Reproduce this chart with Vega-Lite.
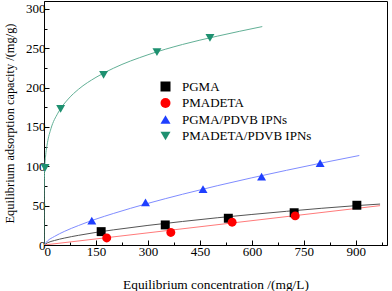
{
  "$schema": "https://vega.github.io/schema/vega-lite/v6.json",
  "width": 343,
  "height": 244,
  "autosize": "none",
  "padding": {"left": 44, "top": 1, "right": 5, "bottom": 46},
  "background": "white",
  "config": {
    "view": {"stroke": "black", "strokeWidth": 1},
    "font": "Liberation Serif",
    "axis": {
      "grid": false,
      "domainColor": "black",
      "tickColor": "black",
      "labelColor": "black",
      "titleColor": "black",
      "labelFont": "Liberation Serif",
      "titleFont": "Liberation Serif",
      "labelFontSize": 13,
      "titleFontSize": 13,
      "titleFontWeight": "normal"
    },
    "legend": {"labelFont": "Liberation Serif", "labelFontSize": 13, "labelColor": "black"}
  },
  "datasets": {
    "pts": [
      {"series": "PGMA", "c": 165, "q": 17},
      {"series": "PGMA", "c": 350, "q": 25.5},
      {"series": "PGMA", "c": 532, "q": 34},
      {"series": "PGMA", "c": 722, "q": 41},
      {"series": "PGMA", "c": 903, "q": 50.5},
      {"series": "PMADETA", "c": 181, "q": 9},
      {"series": "PMADETA", "c": 366, "q": 16},
      {"series": "PMADETA", "c": 543, "q": 29},
      {"series": "PMADETA", "c": 725, "q": 37},
      {"series": "PGMA/PDVB IPNs", "c": 138, "q": 31},
      {"series": "PGMA/PDVB IPNs", "c": 293, "q": 54},
      {"series": "PGMA/PDVB IPNs", "c": 459, "q": 71},
      {"series": "PGMA/PDVB IPNs", "c": 628, "q": 87},
      {"series": "PGMA/PDVB IPNs", "c": 797, "q": 104},
      {"series": "PMADETA/PDVB IPNs", "c": 3, "q": 98},
      {"series": "PMADETA/PDVB IPNs", "c": 48, "q": 173},
      {"series": "PMADETA/PDVB IPNs", "c": 172, "q": 216},
      {"series": "PMADETA/PDVB IPNs", "c": 326, "q": 245},
      {"series": "PMADETA/PDVB IPNs", "c": 479, "q": 263}
    ],
    "fits": [
      {"series": "PGMA", "c": 0, "q": 0},
      {"series": "PGMA", "c": 10, "q": 2.8},
      {"series": "PGMA", "c": 30, "q": 5.7},
      {"series": "PGMA", "c": 60, "q": 8.9},
      {"series": "PGMA", "c": 100, "q": 12.3},
      {"series": "PGMA", "c": 150, "q": 16.0},
      {"series": "PGMA", "c": 200, "q": 19.2},
      {"series": "PGMA", "c": 300, "q": 24.9},
      {"series": "PGMA", "c": 400, "q": 29.9},
      {"series": "PGMA", "c": 500, "q": 34.6},
      {"series": "PGMA", "c": 600, "q": 38.8},
      {"series": "PGMA", "c": 700, "q": 42.8},
      {"series": "PGMA", "c": 800, "q": 46.6},
      {"series": "PGMA", "c": 900, "q": 50.0},
      {"series": "PGMA", "c": 970, "q": 52.0},
      {"series": "PMADETA", "c": 0, "q": 0},
      {"series": "PMADETA", "c": 970, "q": 50},
      {"series": "PGMA/PDVB IPNs", "c": 0, "q": 0},
      {"series": "PGMA/PDVB IPNs", "c": 10, "q": 5.1},
      {"series": "PGMA/PDVB IPNs", "c": 30, "q": 10.8},
      {"series": "PGMA/PDVB IPNs", "c": 60, "q": 17.5},
      {"series": "PGMA/PDVB IPNs", "c": 100, "q": 24.8},
      {"series": "PGMA/PDVB IPNs", "c": 150, "q": 32.9},
      {"series": "PGMA/PDVB IPNs", "c": 200, "q": 40.0},
      {"series": "PGMA/PDVB IPNs", "c": 300, "q": 52.9},
      {"series": "PGMA/PDVB IPNs", "c": 400, "q": 64.5},
      {"series": "PGMA/PDVB IPNs", "c": 500, "q": 75.3},
      {"series": "PGMA/PDVB IPNs", "c": 600, "q": 85.4},
      {"series": "PGMA/PDVB IPNs", "c": 700, "q": 94.9},
      {"series": "PGMA/PDVB IPNs", "c": 800, "q": 104.1},
      {"series": "PGMA/PDVB IPNs", "c": 910, "q": 113.7},
      {"series": "PMADETA/PDVB IPNs", "c": 0, "q": 0},
      {"series": "PMADETA/PDVB IPNs", "c": 0.1, "q": 56},
      {"series": "PMADETA/PDVB IPNs", "c": 0.5, "q": 75},
      {"series": "PMADETA/PDVB IPNs", "c": 1, "q": 85.6},
      {"series": "PMADETA/PDVB IPNs", "c": 2, "q": 97},
      {"series": "PMADETA/PDVB IPNs", "c": 5, "q": 114.7},
      {"series": "PMADETA/PDVB IPNs", "c": 10, "q": 130},
      {"series": "PMADETA/PDVB IPNs", "c": 20, "q": 147.7},
      {"series": "PMADETA/PDVB IPNs", "c": 40, "q": 167.5},
      {"series": "PMADETA/PDVB IPNs", "c": 70, "q": 185.5},
      {"series": "PMADETA/PDVB IPNs", "c": 100, "q": 198},
      {"series": "PMADETA/PDVB IPNs", "c": 150, "q": 213},
      {"series": "PMADETA/PDVB IPNs", "c": 200, "q": 224.5},
      {"series": "PMADETA/PDVB IPNs", "c": 300, "q": 241.7},
      {"series": "PMADETA/PDVB IPNs", "c": 400, "q": 254.8},
      {"series": "PMADETA/PDVB IPNs", "c": 500, "q": 265.3},
      {"series": "PMADETA/PDVB IPNs", "c": 630, "q": 277.5}
    ]
  },
  "encoding": {
    "x": {
      "field": "c", "type": "quantitative",
      "scale": {"domain": [0, 990], "nice": false, "zero": false},
      "axis": {
        "title": "Equilibrium concentration /(mg/L)",
        "values": [0, 75, 150, 225, 300, 375, 450, 525, 600, 675, 750, 825, 900, 975],
        "labelExpr": "datum.value % 150 === 0 ? datum.label : ''",
        "tickSize": {"condition": {"test": "datum.value % 150 === 0", "value": -5}, "value": -3},
        "labelPadding": 5,
        "titleFontSize": 13.4,
        "titlePadding": 19
      }
    },
    "y": {
      "field": "q", "type": "quantitative",
      "scale": {"domain": [0, 310], "nice": false},
      "axis": {
        "title": "Equilibrium adsorption capacity /(mg/g)",
        "values": [0, 25, 50, 75, 100, 125, 150, 175, 200, 225, 250, 275, 300],
        "labelExpr": "datum.value % 50 === 0 ? datum.label : ''",
        "tickSize": {"condition": {"test": "datum.value % 50 === 0", "value": -5}, "value": -3},
        "labelPadding": 4,
        "titleFontSize": 12.4,
        "titlePadding": 9
      }
    }
  },
  "layer": [
    {
      "data": {"name": "fits"},
      "mark": {"type": "line", "strokeWidth": 1, "interpolate": "monotone", "clip": true},
      "encoding": {
        "color": {
          "field": "series", "type": "nominal",
          "scale": {
            "domain": ["PGMA", "PMADETA", "PGMA/PDVB IPNs", "PMADETA/PDVB IPNs"],
            "range": ["#555555", "#ff7a7a", "#7f8cff", "#62b096"]
          },
          "legend": null
        }
      }
    },
    {
      "data": {"name": "pts"},
      "mark": {"type": "point", "filled": true, "opacity": 1, "size": 80, "strokeWidth": 0},
      "encoding": {
        "shape": {
          "field": "series", "type": "nominal",
          "scale": {
            "domain": ["PGMA", "PMADETA", "PGMA/PDVB IPNs", "PMADETA/PDVB IPNs"],
            "range": ["square", "circle", "triangle-up", "triangle-down"]
          },
          "legend": {
            "title": null,
            "orient": "none",
            "legendX": 115,
            "legendY": 79,
            "symbolSize": 100,
            "symbolStrokeWidth": 0,
            "labelOffset": 10,
            "rowPadding": 2.5,
            "symbolOpacity": 1
          }
        },
        "fill": {
          "field": "series", "type": "nominal",
          "scale": {
            "domain": ["PGMA", "PMADETA", "PGMA/PDVB IPNs", "PMADETA/PDVB IPNs"],
            "range": ["#000000", "#ff0000", "#1f3fff", "#1e9070"]
          },
          "legend": {
            "title": null,
            "orient": "none",
            "legendX": 115,
            "legendY": 79,
            "symbolSize": 100,
            "symbolStrokeWidth": 0,
            "labelOffset": 10,
            "rowPadding": 2.5,
            "symbolOpacity": 1
          }
        }
      }
    }
  ],
  "resolve": {"scale": {"color": "independent"}}
}
